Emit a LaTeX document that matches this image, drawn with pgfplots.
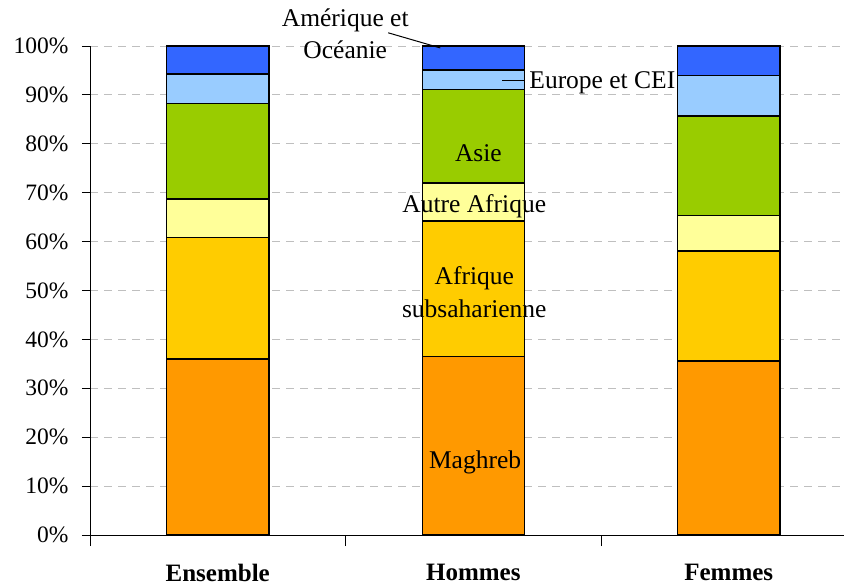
\documentclass[border=0pt]{standalone}
\usepackage{pgfplots}
\pgfplotsset{compat=1.18}
\usepackage{fontspec}
\setmainfont{Liberation Serif}
\definecolor{cMag}{HTML}{FF9900}
\definecolor{cSub}{HTML}{FFCC00}
\definecolor{cAut}{HTML}{FFFF99}
\definecolor{cAsi}{HTML}{99CC00}
\definecolor{cEur}{HTML}{99CCFF}
\definecolor{cAme}{HTML}{3366FF}
\begin{document}
\begin{tikzpicture}
\begin{axis}[
  name=ax,
  scale only axis, width=754pt, height=489pt,
  xmin=-0.5, xmax=2.451, ymin=0, ymax=100,
  axis lines=left, axis line style={-, black, line width=0.8pt},
  ybar stacked, bar width=0.4,
  xtick={0,1,2}, xticklabels={Ensemble,Hommes,Femmes},
  minor xtick={-0.5,0.5,1.5},
  major x tick style={draw=none},
  minor tick length=11pt, major tick length=8pt,
  tick align=outside,
  ytick={0,10,20,30,40,50,60,70,80,90,100},
  yticklabels={0\%,10\%,20\%,30\%,40\%,50\%,60\%,70\%,80\%,90\%,100\%},
  ymajorgrids,
  grid style={dash pattern=on 8pt off 6pt, black!25, line width=0.8pt},
  tick style={black, line width=0.8pt},
  yticklabel style={font=\fontsize{23.5}{27}\selectfont, xshift=-10pt},
  xticklabel style={font=\fontsize{25}{29}\selectfont\bfseries, yshift=-18pt},
  clip=false,
  every axis plot/.append style={draw=black, line width=1.3pt},
]
\addplot[fill=cMag] coordinates {(0,36.0) (1,36.5) (2,35.6)};
\addplot[fill=cSub] coordinates {(0,24.9) (1,27.7) (2,22.5)};
\addplot[fill=cAut] coordinates {(0,7.8) (1,7.8) (2,7.3)};
\addplot[fill=cAsi] coordinates {(0,19.6) (1,19.1) (2,20.3)};
\addplot[fill=cEur] coordinates {(0,6.0) (1,4.0) (2,8.2)};
\addplot[fill=cAme] coordinates {(0,5.7) (1,4.9) (2,6.1)};

\coordinate (lAme) at (axis cs:0.499,102.5);
\coordinate (a1) at (axis cs:0.667,102.7);
\coordinate (a2) at (axis cs:0.871,99.6);
\coordinate (lEur) at (axis cs:1.219,92.4);
\coordinate (e1) at (axis cs:1.114,93.0);
\coordinate (e2) at (axis cs:1.200,93.0);
\coordinate (lAsi) at (axis cs:1.02,78.1);
\coordinate (lAut) at (axis cs:1.004,67.3);
\coordinate (lSub) at (axis cs:1.004,49.6);
\coordinate (lMag) at (axis cs:1.007,14.9);
\end{axis}
\node[font=\fontsize{25.5}{32}\selectfont, align=center] at (lAme) {Amérique et\\Océanie};
\draw[line width=1pt] (a1) -- (a2);
\node[font=\fontsize{25.5}{32}\selectfont, anchor=west, inner sep=0pt] at (lEur) {Europe et CEI};
\draw[line width=1pt] (e1) -- (e2);
\node[font=\fontsize{25.5}{32}\selectfont] at (lAsi) {Asie};
\node[font=\fontsize{25.5}{32}\selectfont] at (lAut) {Autre Afrique};
\node[font=\fontsize{25.5}{33}\selectfont, align=center] at (lSub) {Afrique\\subsaharienne};
\node[font=\fontsize{25.5}{32}\selectfont] at (lMag) {Maghreb};
\path (ax.south west) ++(-90pt,-52pt) rectangle ++(845pt,587pt);
\end{tikzpicture}
\end{document}
